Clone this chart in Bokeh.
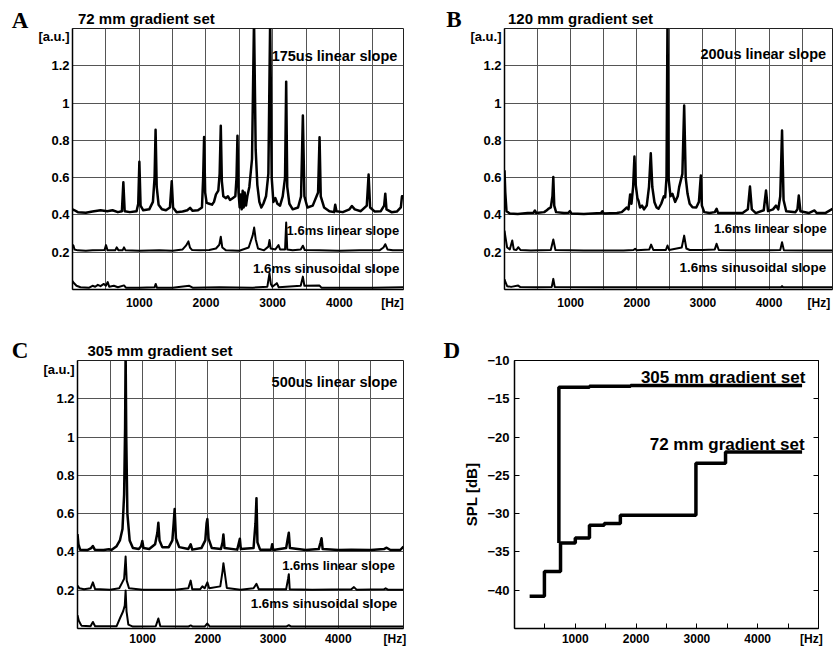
from bokeh.plotting import figure
from bokeh.models import Range1d, FixedTicker, Label, LinearAxis, Spacer
from bokeh.layouts import column, row
from bokeh.embed import file_html
from bokeh.resources import INLINE

# ---------------- data ----------------
GRID_X = [500, 1000, 1500, 2000, 2500, 3000, 3500, 4000, 4500]
GRID_Y = [0.2, 0.4, 0.6, 0.8, 1.0, 1.2]
TICK_X_LABELS = {1000: "1000", 2000: "2000", 3000: "3000", 4000: "4000"}
TICK_Y_LABELS = {0.2: "0.2", 0.4: "0.4", 0.6: "0.6", 0.8: "0.8", 1.0: "1", 1.2: "1.2"}
UNIT_Y = 1.355      # where "[a.u.]" sits on the value axis
HZ_A, HZ_B, HZ_C, HZ_D = 4795, 4753, 4868, 4884   # where "[Hz]" sits on the frequency axes

# Panel A: 72 mm gradient set
A_TOP = [(0,0.43),(30,0.425),(80,0.415),(200,0.412),(300,0.418),(420,0.425),(520,0.42),(600,0.425),
         (680,0.415),(740,0.42),(762,0.575),(782,0.42),(860,0.415),(960,0.42),(985,0.46),(1002,0.685),
         (1020,0.45),(1060,0.425),(1150,0.43),(1205,0.47),(1230,0.6),(1245,0.857),(1262,0.55),(1290,0.455),
         (1340,0.43),(1400,0.425),(1460,0.44),(1487,0.58),(1507,0.44),(1560,0.415),(1650,0.418),(1720,0.425),
         (1762,0.438),(1800,0.422),(1880,0.425),(1940,0.44),(1958,0.6),(1972,0.818),(1988,0.52),(2010,0.465),
         (2050,0.46),(2090,0.455),(2120,0.47),(2150,0.51),(2185,0.53),(2205,0.62),(2222,0.878),(2238,0.58),
         (2260,0.5),(2300,0.49),(2330,0.5),(2360,0.48),(2400,0.49),(2440,0.5),(2458,0.6),(2472,0.825),
         (2488,0.52),(2505,0.44),(2520,0.51),(2535,0.43),(2550,0.53),(2565,0.44),(2580,0.52),(2600,0.45),
         (2620,0.5),(2650,0.55),(2690,0.7),(2720,1.45),(2745,0.75),(2770,0.56),(2800,0.47),(2830,0.44),
         (2860,0.46),(2900,0.5),(2935,0.62),(2962,1.45),(2985,0.6),(3010,0.47),(3040,0.49),(3070,0.46),
         (3110,0.45),(3150,0.5),(3185,0.6),(3202,1.115),(3218,0.55),(3250,0.46),(3300,0.43),(3380,0.44),
         (3425,0.5),(3452,0.933),(3475,0.5),(3520,0.44),(3600,0.45),(3680,0.52),(3702,0.816),(3720,0.5),
         (3770,0.44),(3850,0.42),(3920,0.415),(3937,0.455),(3955,0.42),(4050,0.415),(4150,0.43),(4187,0.448),
         (4230,0.43),(4320,0.42),(4410,0.45),(4437,0.617),(4460,0.44),(4530,0.418),(4620,0.42),(4670,0.45),
         (4687,0.514),(4705,0.43),(4780,0.415),(4860,0.418),(4920,0.44),(4937,0.5),(4960,0.5)]
A_MID = [(0,0.24),(15,0.235),(30,0.215),(80,0.21),(200,0.208),(300,0.21),(480,0.212),(502,0.238),(525,0.21),
         (640,0.21),(662,0.226),(690,0.21),(750,0.21),(772,0.226),(795,0.21),(1000,0.208),(1300,0.21),
         (1500,0.208),(1650,0.215),(1700,0.235),(1737,0.258),(1760,0.225),(1790,0.212),(1900,0.21),
         (2050,0.212),(2150,0.22),(2200,0.24),(2222,0.283),(2245,0.225),(2300,0.21),(2500,0.208),(2640,0.225),
         (2700,0.29),(2722,0.332),(2745,0.27),(2780,0.22),(2870,0.21),(2935,0.23),(2952,0.265),(2970,0.22),
         (3040,0.215),(3087,0.238),(3110,0.215),(3185,0.215),(3202,0.359),(3218,0.215),(3300,0.21),(3420,0.215),
         (3452,0.235),(3480,0.212),(3700,0.21),(4000,0.208),(4300,0.21),(4600,0.21),(4660,0.225),(4687,0.243),
         (4720,0.215),(4800,0.21),(4960,0.21)]
A_BOT = [(0,0.045),(20,0.035),(60,0.02),(120,0.012),(250,0.01),(300,0.02),(340,0.015),(380,0.025),(420,0.018),
         (470,0.03),(500,0.02),(528,0.04),(550,0.015),(620,0.02),(680,0.012),(772,0.022),(800,0.01),(1000,0.01),
         (1230,0.012),(1247,0.03),(1265,0.01),(1500,0.01),(1750,0.02),(1800,0.01),(2200,0.012),(2700,0.01),
         (2920,0.015),(2952,0.087),(2972,0.03),(2995,0.015),(3062,0.034),(3090,0.012),(3200,0.015),(3420,0.02),
         (3452,0.069),(3475,0.02),(3702,0.021),(3730,0.01),(4000,0.01),(4500,0.01),(4960,0.012)]

# Panel B: 120 mm gradient set
B_TOP = [(0,0.64),(12,0.52),(30,0.42),(80,0.408),(200,0.405),(350,0.41),(440,0.412),(460,0.424),(480,0.41),
         (600,0.415),(640,0.425),(662,0.433),(700,0.44),(725,0.5),(738,0.603),(752,0.45),(780,0.415),(900,0.41),
         (970,0.412),(990,0.42),(1010,0.408),(1200,0.405),(1460,0.41),(1480,0.42),(1500,0.407),(1700,0.41),
         (1773,0.415),(1850,0.44),(1875,0.43),(1900,0.51),(1920,0.46),(1945,0.55),(1965,0.713),(1985,0.56),
         (2010,0.49),(2025,0.477),(2050,0.44),(2080,0.45),(2110,0.43),(2151,0.45),(2185,0.55),(2212,0.731),
         (2235,0.55),(2268,0.468),(2300,0.44),(2329,0.433),(2370,0.46),(2410,0.5),(2430,0.495),(2450,0.6),
         (2465,1.45),(2480,0.6),(2510,0.5),(2540,0.513),(2580,0.47),(2620,0.5),(2641,0.549),(2690,0.62),
         (2717,0.987),(2740,0.6),(2768,0.513),(2800,0.46),(2843,0.441),(2900,0.44),(2940,0.47),(2969,0.611),
         (2985,0.45),(3020,0.415),(3100,0.41),(3180,0.415),(3207,0.433),(3230,0.41),(3400,0.41),(3600,0.41),
         (3680,0.43),(3712,0.552),(3740,0.43),(3800,0.41),(3920,0.425),(3955,0.531),(3985,0.42),(4060,0.43),
         (4106,0.45),(4140,0.43),(4170,0.5),(4197,0.853),(4220,0.48),(4260,0.42),(4400,0.415),(4430,0.43),
         (4450,0.504),(4475,0.42),(4600,0.41),(4688,0.424),(4720,0.41),(4850,0.41),(4960,0.433)]
B_MID = [(0,0.316),(15,0.28),(40,0.225),(80,0.215),(117,0.263),(140,0.215),(180,0.212),(207,0.227),(240,0.212),
         (400,0.209),(700,0.212),(738,0.268),(770,0.212),(1200,0.209),(1800,0.209),(1950,0.212),(1975,0.218),
         (2000,0.21),(2190,0.215),(2217,0.241),(2250,0.212),(2440,0.212),(2465,0.236),(2490,0.212),(2680,0.225),
         (2717,0.289),(2750,0.22),(2800,0.212),(3000,0.212),(3180,0.215),(3207,0.245),(3240,0.212),(3500,0.21),
         (4000,0.21),(4170,0.212),(4197,0.254),(4225,0.21),(4600,0.209),(4960,0.209)]
B_BOT = [(0,0.055),(15,0.039),(40,0.018),(100,0.014),(207,0.021),(240,0.013),(500,0.012),(715,0.014),
         (738,0.057),(760,0.013),(1500,0.012),(3000,0.012),(4180,0.012),(4197,0.018),(4215,0.012),(4960,0.012)]

# Panel C: 305 mm gradient set
C_TOP = [(0,0.493),(15,0.44),(40,0.412),(150,0.41),(210,0.42),(236,0.431),(265,0.412),(400,0.41),(482,0.414),
         (520,0.41),(600,0.43),(650,0.46),(690,0.52),(715,0.7),(730,1.05),(738,1.45),(748,1.0),(765,0.6),
         (800,0.46),(850,0.42),(940,0.415),(975,0.43),(994,0.457),(1012,0.42),(1100,0.415),(1190,0.44),
         (1225,0.5),(1240,0.552),(1258,0.46),(1300,0.425),(1400,0.425),(1455,0.46),(1475,0.55),(1490,0.624),
         (1510,0.47),(1560,0.425),(1700,0.415),(1736,0.44),(1760,0.412),(1900,0.42),(1960,0.46),(1980,0.55),
         (1992,0.572),(2010,0.47),(2060,0.42),(2200,0.415),(2225,0.45),(2238,0.491),(2255,0.42),(2450,0.412),
         (2470,0.44),(2490,0.469),(2505,0.415),(2700,0.42),(2730,0.55),(2745,0.681),(2760,0.45),(2800,0.412),
         (2970,0.412),(2986,0.44),(3002,0.41),(3200,0.42),(3225,0.47),(3241,0.5),(3258,0.42),(3500,0.41),
         (3700,0.415),(3728,0.45),(3743,0.471),(3760,0.415),(4000,0.41),(4200,0.412),(4500,0.41),(4700,0.415),
         (4741,0.422),(4800,0.41),(4950,0.41),(5000,0.428)]
C_MID = [(0,0.224),(30,0.21),(100,0.205),(200,0.21),(236,0.241),(270,0.206),(500,0.202),(640,0.21),(687,0.241),
         (715,0.26),(738,0.376),(755,0.25),(790,0.21),(1000,0.202),(1500,0.202),(1700,0.21),(1736,0.25),
         (1760,0.205),(1880,0.205),(1915,0.22),(1950,0.21),(1992,0.241),(2020,0.21),(2190,0.22),(2225,0.3),
         (2238,0.341),(2255,0.3),(2290,0.212),(2500,0.203),(2700,0.21),(2745,0.233),(2780,0.205),(3200,0.205),
         (3230,0.26),(3241,0.284),(3255,0.205),(3600,0.202),(4200,0.205),(4240,0.216),(4280,0.203),(4700,0.205),
         (4726,0.21),(4760,0.203),(5000,0.203)]
C_BOT = [(0,0.069),(20,0.04),(60,0.015),(200,0.012),(236,0.034),(270,0.012),(600,0.012),(660,0.06),(700,0.09),
         (725,0.12),(738,0.198),(752,0.09),(780,0.02),(850,0.01),(1200,0.012),(1240,0.052),(1270,0.012),
         (1700,0.01),(1736,0.016),(1770,0.01),(1950,0.01),(1992,0.026),(2030,0.01),(3200,0.01),(3241,0.017),
         (3280,0.01),(5000,0.01)]

# Panel D: SPL steps
D72_F = [249, 492, 757, 1000, 1233, 1476, 1741, 2984, 3471, 4730]
D72_DB = [-40.8, -37.56, -33.84, -33.19, -31.52, -31.3, -30.21, -23.43, -21.94, -21.94]
D305_F = [730, 730, 1233, 1910, 4730]
D305_DB = [-33.84, -13.5, -13.37, -13.28, -13.28]
D_MINOR_X = [500, 1000, 1500, 2000, 2500, 3000, 3500, 4000, 4500]
D_TICK_Y = [-40, -35, -30, -25, -20, -15, -10]

SANS = "Liberation Sans"
SERIF = "Liberation Serif"

# row borders (top, bottom) shared by every figure of a row
ROW1 = (28, 31)
ROW2 = (40, 20)


def unzip(pairs):
    return [a for a, _ in pairs], [b for _, b in pairs]


def make_fig(width, height, bl, br, borders, xr, yr):
    bt, bb = borders
    p = figure(width=width, height=height, x_range=Range1d(*xr), y_range=Range1d(*yr),
               output_backend="svg", toolbar_location=None,
               min_border_left=bl, min_border_right=br, min_border_top=bt, min_border_bottom=bb)
    p.background_fill_color = "white"
    p.border_fill_color = "white"
    p.outline_line_color = "#202020"
    p.outline_line_width = 1
    for ax in (p.xaxis[0], p.yaxis[0]):
        ax.axis_line_color = "black"
        ax.axis_line_width = 1.5
        ax.major_label_text_font = SANS
        ax.major_label_text_font_style = "bold"
        ax.major_label_text_color = "black"
        ax.minor_tick_line_color = None
    p.xaxis.major_label_text_font_size = "12px"
    p.yaxis.major_label_text_font_size = "13px"
    return p


def set_title(p, text, offset):
    p.title.text = text
    p.title.align = "left"
    p.title.offset = offset
    p.title.standoff = 3
    p.title.text_font = SANS
    p.title.text_font_size = "15px"
    p.title.text_font_style = "bold"
    p.title.text_color = "black"


def inside(p, x, y, text, size, font=SANS):
    p.add_layout(Label(x=x, y=y, text=text, text_font=font, text_font_size=size,
                       text_font_style="bold", text_align="right", text_baseline="alphabetic",
                       text_color="black"))


def letter_fig(width, height, borders, xc, shift, letter):
    """Panel letter drawn as the only tick label of an axis above an empty frame,
    pushed down by `shift` pixels with a spacer."""
    bt, bb = borders
    p = figure(width=width, height=height - shift, x_range=Range1d(0, width), y_range=Range1d(0, 1),
               output_backend="svg", toolbar_location=None, title=None,
               x_axis_location="above", y_axis_type=None,
               min_border_left=0, min_border_right=0, min_border_top=bt, min_border_bottom=bb)
    p.outline_line_color = None
    p.grid.visible = False
    p.background_fill_color = "white"
    p.border_fill_color = "white"
    ax = p.xaxis[0]
    ax.ticker = FixedTicker(ticks=[xc])
    ax.major_label_overrides = {xc: letter}
    ax.major_label_text_font = SERIF
    ax.major_label_text_font_size = "23px"
    ax.major_label_text_font_style = "bold"
    ax.major_label_text_color = "black"
    ax.major_label_standoff = 0
    ax.axis_line_color = None
    ax.major_tick_line_color = None
    ax.minor_tick_line_color = None
    ax.major_tick_in = 0
    ax.major_tick_out = 0
    return column(Spacer(width=width, height=shift), p)


def spectrum_panel(width, height, bl, br, borders, xmax, traces, title, title_offset, labels, xstandoff, hz):
    p = make_fig(width, height, bl, br, borders, (0, xmax), (0, 1.4))
    p.xgrid.ticker = FixedTicker(ticks=GRID_X)
    p.ygrid.ticker = FixedTicker(ticks=GRID_Y)
    p.xgrid.grid_line_color = "#555555"
    p.ygrid.grid_line_color = "#555555"
    xt = list(TICK_X_LABELS) + [hz]
    yt = list(TICK_Y_LABELS) + [UNIT_Y]
    p.xaxis.ticker = FixedTicker(ticks=xt)
    p.yaxis.ticker = FixedTicker(ticks=yt)
    p.xaxis.major_label_overrides = {**TICK_X_LABELS, hz: "[Hz]"}
    p.yaxis.major_label_overrides = {**TICK_Y_LABELS, UNIT_Y: "[a.u.]"}
    for ax in (p.xaxis[0], p.yaxis[0]):
        ax.major_tick_in = 0
        ax.major_tick_out = 0
    p.xaxis.major_label_standoff = xstandoff
    p.yaxis.major_label_standoff = 3
    for i, tr in enumerate(traces):
        f, v = unzip(tr)
        p.line(f, v, line_color="black", line_width=2.5 if i == 0 else 2.0, line_join="round")
    set_title(p, title, title_offset)
    for (x, y, t, s) in labels:
        inside(p, x, y, t, s)
    return p


pA = spectrum_panel(388, 320, 42, 15, ROW1, 4960, [A_TOP, A_MID, A_BOT], "72 mm gradient set", 5.5,
                    [(4868, 1.255, "175us linear slope", "14.5px"), (4897, 0.315, "1.6ms linear slope", "13px"),
                     (4900, 0.114, "1.6ms sinusoidal slope", "13.4px")], 6, HZ_A)
pB = spectrum_panel(373, 320, 42, 3, ROW1, 4960, [B_TOP, B_MID, B_BOT], "120 mm gradient set", 3.5,
                    [(4864, 1.265, "200us linear slope", "14.5px"), (4873, 0.325, "1.6ms linear slope", "13px"),
                     (4864, 0.119, "1.6ms sinusoidal slope", "13.4px")], 6, HZ_B)
pC = spectrum_panel(388, 328, 47, 15, ROW2, 5000, [C_TOP, C_MID, C_BOT], "305 mm gradient set", 10,
                    [(4905, 1.29, "500us linear slope", "14.5px"), (4869, 0.329, "1.6ms linear slope", "13px"),
                     (4905, 0.128, "1.6ms sinusoidal slope", "13.4px")], 3, HZ_C)

# Panel D
pD = make_fig(375, 328, 43, 17, ROW2, (0, 5000), (-45, -10))
pD.xgrid.grid_line_color = None
pD.ygrid.grid_line_color = None
pD.outline_line_color = "black"
pD.xaxis.ticker = FixedTicker(ticks=[1000, 2000, 3000, 4000, HZ_D], minor_ticks=D_MINOR_X)
pD.xaxis.major_label_overrides = {HZ_D: "[Hz]"}
pD.xaxis.major_tick_in = 0
pD.xaxis.major_tick_out = 0
pD.xaxis.minor_tick_in = 5
pD.xaxis.minor_tick_out = 0
pD.xaxis.minor_tick_line_color = "black"
pD.yaxis.ticker = FixedTicker(ticks=D_TICK_Y)
pD.yaxis.major_tick_in = 5
pD.yaxis.major_tick_out = 0
pD.yaxis.major_tick_line_color = "black"
pD.xaxis.major_label_standoff = 3
pD.yaxis.major_label_standoff = 5
pD.yaxis.axis_label = "SPL [dB]"
pD.yaxis.axis_label_text_font = SANS
pD.yaxis.axis_label_text_font_style = "bold"
pD.yaxis.axis_label_text_font_size = "15px"
pD.yaxis.axis_label_text_color = "black"
pD.yaxis.axis_label_standoff = 4
right_ax = LinearAxis(ticker=FixedTicker(ticks=D_TICK_Y), major_tick_in=5, major_tick_out=0,
                      major_label_text_color=None, axis_line_color="black", major_label_standoff=0,
                      minor_tick_line_color=None)
pD.add_layout(right_ax, "right")
pD.step(D72_F, D72_DB, mode="after", line_color="black", line_width=3.5)
pD.step(D305_F, D305_DB, mode="after", line_color="black", line_width=3.5)
inside(pD, 4783, -12.2, "305 mm gradient set", "17px")
inside(pD, 4772, -20.97, "72 mm gradient set", "17px")

lA = letter_fig(30, 320, ROW1, 19.5, 4, "A")
lB = letter_fig(44, 320, ROW1, 35.5, 3, "B")
lC = letter_fig(30, 328, ROW2, 19.5, 2, "C")
lD = letter_fig(42, 328, ROW2, 34, 2, "D")

layout = column(row(lA, pA, lB, pB), row(lC, pC, lD, pD))
open("out.html", "w").write(file_html(layout, INLINE))
